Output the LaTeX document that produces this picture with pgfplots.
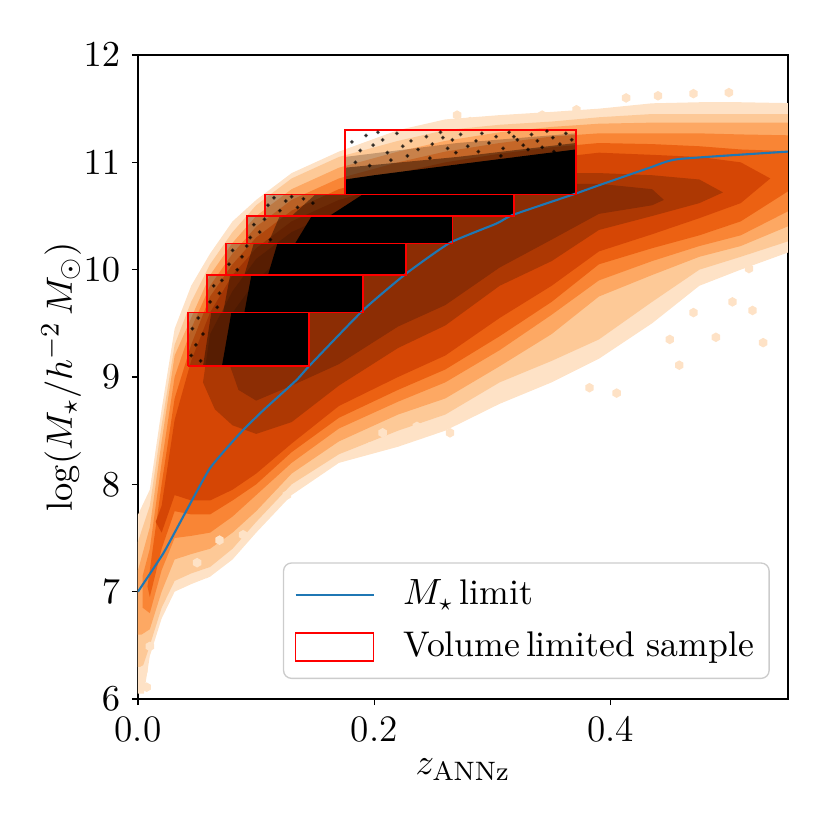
\documentclass[border=0pt]{standalone}
\usepackage{pgfplots}
\pgfplotsset{compat=1.18}
\definecolor{c0}{HTML}{FEE2C6}
\definecolor{c1}{HTML}{FDC997}
\definecolor{c2}{HTML}{FDA863}
\definecolor{c3}{HTML}{F98535}
\definecolor{c4}{HTML}{EC6112}
\definecolor{c5}{HTML}{D54605}
\definecolor{c6}{HTML}{AD3803}
\definecolor{c7}{HTML}{8C2D04}
\definecolor{spk}{HTML}{2A1002}
\definecolor{mplblue}{HTML}{1F77B4}
\pgfdeclareplotmark{hexagon}{%
  \pgfpathmoveto{\pgfqpointpolar{90}{\pgfplotmarksize}}%
  \pgfpathlineto{\pgfqpointpolar{150}{\pgfplotmarksize}}%
  \pgfpathlineto{\pgfqpointpolar{210}{\pgfplotmarksize}}%
  \pgfpathlineto{\pgfqpointpolar{270}{\pgfplotmarksize}}%
  \pgfpathlineto{\pgfqpointpolar{330}{\pgfplotmarksize}}%
  \pgfpathlineto{\pgfqpointpolar{30}{\pgfplotmarksize}}%
  \pgfpathclose\pgfusepathqfill}
\newcommand{\fs}{\fontsize{11.2}{13.4}\selectfont}
\newcommand{\lfs}{\fontsize{10.7}{12.8}\selectfont}
\begin{document}
\begin{tikzpicture}
\path[use as bounding box] (-41.4pt,-39.3pt) rectangle (207.6pt,209.7pt);
\begin{axis}[
  at={(0,0)}, anchor=south west,
  scale only axis, width=195pt, height=193.2pt,
  xmin=0, xmax=0.55, ymin=6, ymax=12,
  xtick={0,0.2,0.4}, xticklabels={0.0,0.2,0.4},
  ytick={6,7,8,9,10,11,12},
  xtick pos=bottom, ytick pos=left,
  tick align=outside, major tick length=1.8pt,
  tick style={black, line width=0.4pt},
  axis line style={line width=0.45pt},
  ticklabel style={font=\fs},
  xlabel={$z_{\mathrm{ANNz}}$}, ylabel={$\log(M_\star/h^{-2}\,M_\odot)$},
  label style={font=\fs},
  xlabel style={at={(axis description cs:0.5,-0.110)}, anchor=center},
  ylabel style={at={(axis description cs:-0.118,0.5)}, anchor=center},
  legend style={at={(0.972,0.031)}, anchor=south east, draw=black!20,
    rounded corners=2.4pt, fill=white, fill opacity=0.8, text opacity=1,
    font=\lfs, row sep=2.7pt, inner xsep=2.5pt, inner ysep=3pt},
  legend cell align=left,
  legend image code/.code={\path[draw=none,fill=none] (-1.1pt,0pt) rectangle (30.3pt,0.1pt);
    \draw[#1, sharp corners] (0pt,0pt) -- (23.4pt,0pt);},
]
% ---- density bands (hexbin approximation) ----
\addplot[fill=c0, draw=none, forget plot] coordinates {
(-0.005,6.05) (-0.005,7.6) (0.01,7.95) (0.02,8.7) (0.031,9.45) (0.045,9.85) (0.061,10.15) (0.08,10.45) (0.1,10.65) (0.13,10.9) (0.17,11.1) (0.22,11.3) (0.26,11.4) (0.306,11.44) (0.35,11.47) (0.39,11.5) (0.435,11.55) (0.475,11.56) (0.51,11.56) (0.56,11.55)
(0.56,10.2) (0.51,10.0) (0.475,9.85) (0.435,9.5) (0.39,9.17) (0.35,8.95) (0.306,8.75) (0.26,8.5) (0.22,8.35) (0.17,8.2) (0.13,7.9) (0.1,7.55) (0.08,7.3) (0.061,7.14) (0.045,7.07) (0.031,7.0) (0.02,6.75) (0.01,6.4) (0.005,6.05)};
\addplot[fill=c1, draw=none, forget plot] coordinates {
(-0.005,6.3) (-0.005,7.3) (0.01,7.8) (0.02,8.55) (0.031,9.3) (0.045,9.7) (0.061,10.05) (0.08,10.35) (0.1,10.6) (0.13,10.85) (0.17,11.05) (0.22,11.2) (0.26,11.3) (0.306,11.35) (0.35,11.38) (0.39,11.42) (0.435,11.45) (0.475,11.45) (0.51,11.45) (0.56,11.45)
(0.56,10.3) (0.51,10.12) (0.475,10.0) (0.435,9.7) (0.39,9.35) (0.35,9.15) (0.306,8.95) (0.26,8.65) (0.22,8.5) (0.17,8.28) (0.13,8.0) (0.1,7.65) (0.08,7.4) (0.061,7.23) (0.045,7.17) (0.031,7.1) (0.02,6.85) (0.01,6.5) (0.004,6.3)};
\addplot[fill=c2, draw=none, forget plot] coordinates {
(-0.005,6.6) (-0.005,7.0) (0.01,7.6) (0.02,8.4) (0.031,9.2) (0.045,9.55) (0.061,9.95) (0.08,10.25) (0.1,10.5) (0.13,10.75) (0.17,10.95) (0.22,11.1) (0.26,11.2) (0.306,11.28) (0.35,11.33) (0.39,11.36) (0.435,11.37) (0.475,11.37) (0.51,11.37) (0.56,11.37)
(0.56,10.45) (0.51,10.22) (0.475,10.12) (0.435,9.95) (0.39,9.75) (0.35,9.4) (0.306,9.1) (0.26,8.8) (0.22,8.65) (0.17,8.4) (0.13,8.1) (0.1,7.75) (0.08,7.55) (0.061,7.4) (0.045,7.35) (0.031,7.3) (0.02,7.0) (0.01,6.65) (0.003,6.6)};
\addplot[fill=c3, draw=none, forget plot] coordinates {
(0.004,6.85) (0.004,7.15) (0.01,7.4) (0.02,8.2) (0.031,9.0) (0.045,9.45) (0.061,9.85) (0.08,10.15) (0.1,10.4) (0.13,10.65) (0.17,10.85) (0.22,11.0) (0.26,11.1) (0.306,11.18) (0.35,11.24) (0.39,11.27) (0.435,11.27) (0.475,11.27) (0.51,11.26) (0.56,11.25)
(0.56,10.6) (0.51,10.32) (0.475,10.22) (0.435,10.08) (0.39,9.9) (0.35,9.58) (0.306,9.25) (0.26,8.95) (0.22,8.77) (0.17,8.52) (0.13,8.2) (0.1,7.9) (0.08,7.7) (0.061,7.55) (0.045,7.52) (0.031,7.5) (0.02,7.2) (0.01,6.8)};
\addplot[fill=c4, draw=none, forget plot] coordinates {
(0.008,7.05) (0.01,7.2) (0.02,8.0) (0.031,8.8) (0.045,9.3) (0.061,9.75) (0.08,10.05) (0.1,10.3) (0.13,10.55) (0.17,10.75) (0.22,10.9) (0.26,11.0) (0.306,11.08) (0.35,11.14) (0.39,11.18) (0.435,11.17) (0.475,11.15) (0.51,11.12) (0.56,11.1)
(0.56,10.8) (0.51,10.45) (0.475,10.32) (0.435,10.2) (0.39,10.05) (0.35,9.7) (0.306,9.38) (0.26,9.07) (0.22,8.88) (0.17,8.62) (0.13,8.3) (0.1,8.0) (0.08,7.85) (0.061,7.72) (0.045,7.72) (0.031,7.75) (0.02,7.4) (0.01,6.95)};
\addplot[fill=c5, draw=none, forget plot] coordinates {
(0.015,7.65) (0.02,7.8) (0.031,8.6) (0.045,9.15) (0.061,9.6) (0.08,9.95) (0.1,10.2) (0.13,10.45) (0.17,10.65) (0.22,10.8) (0.26,10.9) (0.306,10.98) (0.35,11.04) (0.39,11.09) (0.435,11.07) (0.475,11.05) (0.51,11.0) (0.535,10.85)
(0.51,10.62) (0.475,10.48) (0.435,10.33) (0.39,10.17) (0.35,9.85) (0.306,9.55) (0.26,9.2) (0.22,9.0) (0.17,8.73) (0.13,8.38) (0.1,8.1) (0.08,7.95) (0.061,7.85) (0.045,7.85) (0.031,7.9) (0.02,7.55)};
\addplot[fill=c6, draw=none, forget plot] coordinates {
(0.055,8.95) (0.061,9.4) (0.08,9.8) (0.1,10.1) (0.13,10.35) (0.17,10.55) (0.22,10.7) (0.26,10.8) (0.306,10.88) (0.35,10.9) (0.39,10.9) (0.435,10.88) (0.475,10.84) (0.495,10.72)
(0.475,10.62) (0.435,10.5) (0.39,10.37) (0.35,10.08) (0.306,9.85) (0.26,9.48) (0.22,9.27) (0.17,8.92) (0.13,8.58) (0.1,8.47) (0.08,8.55) (0.065,8.7)};
\addplot[fill=c7, draw=none, forget plot] coordinates {
(0.078,9.1) (0.08,9.6) (0.1,9.9) (0.13,10.2) (0.17,10.4) (0.22,10.6) (0.26,10.7) (0.306,10.78) (0.35,10.8) (0.39,10.8) (0.435,10.75) (0.445,10.65)
(0.435,10.6) (0.39,10.52) (0.35,10.28) (0.306,10.02) (0.26,9.67) (0.22,9.47) (0.17,9.12) (0.13,8.92) (0.1,8.78) (0.085,8.88)};
% isolated hexes at the fringe
\addplot[only marks, mark=hexagon, mark size=1.45pt, color=c0, forget plot] coordinates {
(0.0045,6.27) (0.0073,6.11) (0.010,6.49) (0.058,7.17) (0.069,7.48) (0.05,7.27) (0.089,7.53) (0.126,7.90) (0.196,8.35) (0.207,8.48) (0.236,8.54) (0.264,8.48)
(0.382,8.90) (0.405,8.85) (0.458,9.11) (0.489,9.37) (0.503,9.70) (0.52,9.62) (0.529,9.32) (0.517,10.01) (0.47,9.6) (0.45,9.35)
(0.5,11.65) (0.413,11.60) (0.27,11.44) (0.281,11.38) (0.342,11.44) (0.371,11.49) (0.44,11.62) (0.47,11.64)};
% ---- volume limited samples (scatter) ----
\addplot[fill=spk, fill opacity=0.3, draw=none, forget plot] coordinates {(0.0423,9.1) (0.1449,9.1) (0.1449,9.6) (0.0423,9.6)};
\addplot[fill=spk, fill opacity=0.5, draw=none, forget plot] coordinates {(0.055,9.1) (0.1449,9.1) (0.1449,9.6) (0.062,9.6)};
\addplot[fill=black, draw=none, forget plot] coordinates {(0.071,9.1) (0.1449,9.1) (0.1449,9.6) (0.079,9.6)};
\addplot[fill=spk, fill opacity=0.3, draw=none, forget plot] coordinates {(0.0586,9.6) (0.1904,9.6) (0.1904,9.95) (0.0586,9.95)};
\addplot[fill=spk, fill opacity=0.5, draw=none, forget plot] coordinates {(0.072,9.6) (0.1904,9.6) (0.1904,9.95) (0.078,9.95)};
\addplot[fill=black, draw=none, forget plot] coordinates {(0.09,9.6) (0.1904,9.6) (0.1904,9.95) (0.096,9.95)};
\addplot[fill=spk, fill opacity=0.3, draw=none, forget plot] coordinates {(0.0744,9.95) (0.2266,9.95) (0.2266,10.245) (0.0744,10.245)};
\addplot[fill=spk, fill opacity=0.5, draw=none, forget plot] coordinates {(0.09,9.95) (0.2266,9.95) (0.2266,10.245) (0.098,10.245)};
\addplot[fill=black, draw=none, forget plot] coordinates {(0.110,9.95) (0.2266,9.95) (0.2266,10.245) (0.118,10.245)};
\addplot[fill=spk, fill opacity=0.3, draw=none, forget plot] coordinates {(0.0924,10.245) (0.2661,10.245) (0.2661,10.50) (0.0924,10.50)};
\addplot[fill=spk, fill opacity=0.5, draw=none, forget plot] coordinates {(0.11,10.245) (0.2661,10.245) (0.2661,10.50) (0.12,10.50)};
\addplot[fill=black, draw=none, forget plot] coordinates {(0.133,10.245) (0.2661,10.245) (0.2661,10.50) (0.147,10.50)};
\addplot[fill=spk, fill opacity=0.3, draw=none, forget plot] coordinates {(0.1074,10.50) (0.3182,10.50) (0.3182,10.70) (0.1074,10.70)};
\addplot[fill=spk, fill opacity=0.5, draw=none, forget plot] coordinates {(0.13,10.50) (0.3182,10.50) (0.3182,10.70) (0.15,10.70)};
\addplot[fill=black, draw=none, forget plot] coordinates {(0.162,10.50) (0.3182,10.50) (0.3182,10.70) (0.19,10.70)};
\addplot[fill=spk, fill opacity=0.25, draw=none, forget plot] coordinates {(0.175,10.70) (0.3704,10.70) (0.3704,11.27) (0.27,11.18) (0.175,11.05)};
\addplot[fill=spk, fill opacity=0.5, draw=none, forget plot] coordinates {(0.175,10.70) (0.3704,10.70) (0.3704,11.18) (0.27,11.05) (0.175,10.95)};
\addplot[fill=black, draw=none, forget plot] coordinates {(0.175,10.70) (0.3704,10.70) (0.3704,11.12) (0.27,10.98) (0.2,10.88) (0.175,10.84)};
\addplot[only marks, mark=*, mark size=0.35pt, black, opacity=0.6, forget plot] coordinates {
(0.181,11.19) (0.188,11.11) (0.193,11.25) (0.199,11.16) (0.207,11.21) (0.211,11.09) (0.219,11.27) (0.224,11.15) (0.231,11.2) (0.237,11.12) (0.244,11.24) (0.249,11.17) (0.256,11.28) (0.262,11.13) (0.266,11.21) (0.273,11.26) (0.279,11.15) (0.286,11.2) (0.291,11.27) (0.297,11.18) (0.303,11.24) (0.309,11.13) (0.314,11.28) (0.321,11.21) (0.326,11.16) (0.333,11.26) (0.338,11.2) (0.346,11.29) (0.351,11.23) (0.357,11.17) (0.362,11.27) (0.367,11.21) (0.203,11.28) (0.258,11.23) (0.318,11.24) (0.342,11.14)
(0.184,11.0) (0.196,10.97) (0.214,11.02) (0.228,11.06) (0.247,11.04) (0.269,11.09) (0.288,11.1) (0.307,11.06) (0.33,11.12) (0.352,11.1)
(0.11,10.6) (0.115,10.67) (0.12,10.55) (0.125,10.64) (0.13,10.68) (0.135,10.58) (0.14,10.66) (0.148,10.62)
(0.095,10.3) (0.098,10.42) (0.103,10.35) (0.107,10.47) (0.112,10.28)
(0.077,10.05) (0.08,10.18) (0.084,10.0) (0.088,10.12) (0.092,10.22)
(0.061,9.7) (0.064,9.85) (0.067,9.65) (0.069,9.78) (0.071,9.9)
(0.045,9.2) (0.046,9.45) (0.049,9.3) (0.051,9.55) (0.053,9.15) (0.055,9.4)};
% ---- M* limit ----
\addplot[mplblue, line width=0.63pt, smooth, tension=0.3] coordinates {
(0,7.0) (0.0214,7.357) (0.0383,7.70) (0.0609,8.15) (0.0863,8.475) (0.106,8.69) (0.134,8.97) (0.1455,9.11) (0.1906,9.624) (0.2272,9.966) (0.2639,10.25) (0.3034,10.43) (0.3171,10.51) (0.368,10.70) (0.391,10.79) (0.433,10.95) (0.457,11.03) (0.55,11.10)};
\addlegendentry{$M_\star$\,limit}
% ---- rectangles ----
\addplot[red, line width=0.5pt, forget plot] coordinates {(0.0423,9.1) (0.1449,9.1) (0.1449,9.6) (0.0423,9.6) (0.0423,9.1)};
\addplot[red, line width=0.5pt, forget plot] coordinates {(0.0586,9.6) (0.1904,9.6) (0.1904,9.95) (0.0586,9.95) (0.0586,9.6)};
\addplot[red, line width=0.5pt, forget plot] coordinates {(0.0744,9.95) (0.2266,9.95) (0.2266,10.245) (0.0744,10.245) (0.0744,9.95)};
\addplot[red, line width=0.5pt, forget plot] coordinates {(0.0924,10.245) (0.2661,10.245) (0.2661,10.50) (0.0924,10.50) (0.0924,10.245)};
\addplot[red, line width=0.5pt, forget plot] coordinates {(0.1074,10.50) (0.3182,10.50) (0.3182,10.70) (0.1074,10.70) (0.1074,10.50)};
\addplot[red, line width=0.5pt, forget plot] coordinates {(0.1750,10.70) (0.3704,10.70) (0.3704,11.30) (0.1750,11.30) (0.1750,10.70)};
\addlegendimage{legend image code/.code={\path[draw=none,fill=none] (-1.1pt,0pt) rectangle (30.3pt,0.1pt);
  \draw[red, line width=0.5pt, sharp corners] (0pt,-4.2pt) rectangle (23.4pt,4.2pt);}}
\addlegendentry{Volume\,limited sample}
\end{axis}
\end{tikzpicture}
\end{document}
